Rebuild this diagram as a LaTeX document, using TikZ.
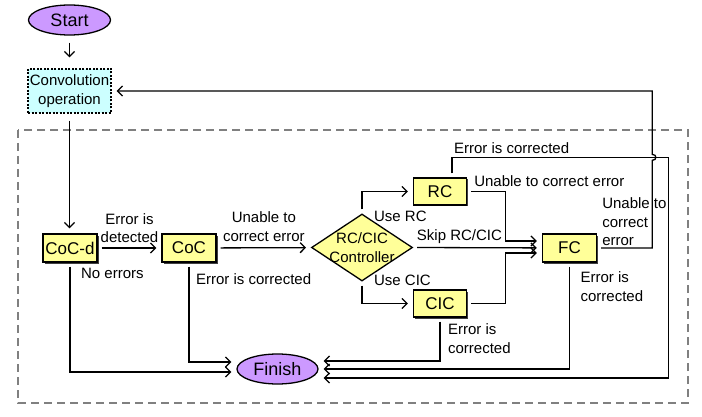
\documentclass[tikz,border=0pt]{standalone}
\usepackage{fontspec}
\setmainfont{Liberation Sans}
\usetikzlibrary{arrows.meta,shapes.geometric,shadows,positioning}

\definecolor{termviolet}{HTML}{CC99FF}
\definecolor{stageyellow}{HTML}{FFFF99}
\definecolor{convcyan}{HTML}{CCFFFF}

\begin{document}
\begin{tikzpicture}[x=1pt,y=-1pt,line width=1.3pt,
  terminal/.style={ellipse, draw, fill=termviolet, minimum width=82pt, minimum height=30pt, inner sep=0pt, font=\fontsize{18}{21}\selectfont},
  stage/.style={draw, fill=stageyellow, minimum width=54pt, minimum height=28pt, inner sep=1pt, font=\fontsize{17}{20}\selectfont,
    drop shadow={shadow xshift=1.5pt, shadow yshift=-1.5pt, fill=black!75, opacity=1}},
  decision/.style={diamond, draw, fill=stageyellow, minimum width=101pt, minimum height=67pt, inner sep=0pt},
  flow/.style={-{Straight Barb[length=5pt,width=10pt]}, shorten <=4pt, shorten >=5pt},
  note/.style={font=\fontsize{15}{18.5}\selectfont, inner sep=1.5pt},
]
\useasboundingbox (0,0) rectangle (702,417);

% outer frame
\draw[gray, line width=1.3pt, dash pattern=on 8pt off 5pt] (18,130) rectangle (688,403);

\node[terminal] (start) at (69.5,20) {Start};
\node[draw, fill=convcyan, dash pattern=on 2pt off 1.5pt, line width=1.3pt, minimum width=83pt, minimum height=44pt,
  inner sep=1pt, align=center, note] (conv) at (69.5,91) {Convolution\\operation};

\node[stage] (cocd) at (70,248) {CoC-d};
\node[stage] (coc) at (189,248) {CoC};
\node[decision, label={[note, align=center]center:RC/CIC\\Controller}] (ctrl) at (362,247.5) {};
\node[stage, minimum width=53pt, minimum height=27pt] (rc) at (440,191.5) {RC};
\node[stage, minimum width=53pt, minimum height=27pt] (cic) at (440,303.5) {CIC};
\node[stage] (fc) at (569.5,248) {FC};
\node[terminal, minimum width=81pt] (finish) at (277.5,369) {Finish};

\coordinate (fbk) at ([xshift=55pt]fc.east);
\coordinate (rgt) at ([xshift=71pt]fc.east);
\coordinate (rctop) at ([xshift=12pt,yshift=20pt]rc.north);
\coordinate (hop) at (fbk |- rctop);

\draw[flow, shorten <=7pt, shorten >=11pt] (start) -- (conv);
\draw[flow, shorten <=7pt] (conv) -- (conv.south |- cocd.north);
\draw[flow] (cocd) -- node[note, above=3pt, align=center] {Error is\\detected} (coc);
\draw[flow] (coc) -- node[note, above=4pt, align=center] {Unable to\\correct error} (ctrl);
\draw[flow] (ctrl.east) -- node[note, pos=0.36, above=2pt] {Skip RC/CIC} (fc);

\draw[flow] (ctrl.north) |- (rc);
\draw[flow] (ctrl.south) |- (cic);
\node[note, anchor=west] at ([xshift=10pt,yshift=-3pt]ctrl.north) {Use RC};
\node[note, anchor=west] at ([xshift=10pt,yshift=1pt]ctrl.south) {Use CIC};

\draw[flow] (rc.east) node[note, anchor=south west, xshift=5pt, yshift=3pt] {Unable to correct error}
  -- ++(38,0) |- ([yshift=7pt]fc.west);
\draw[flow] (cic.east) -- ++(38,0) |- ([yshift=-5pt]fc.west);

% feedback to convolution
\draw[flow] (fc.east) node[note, anchor=south west, align=left, xshift=3pt, yshift=0pt] {Unable to\\correct\\error}
  -- (fbk) -- ([yshift=-3pt]hop) .. controls +(5pt,0) and +(5pt,0) .. ([yshift=3pt]hop) |- (conv.east);

\draw[flow] ([xshift=12pt]rc.north) -- (rctop) node[note, anchor=south west, yshift=2pt] {Error is corrected}
  -- (rctop -| rgt) |- ([yshift=-9pt]finish.east);
\draw[flow] (fc.south) |- (finish.east);
\node[note, anchor=north west, align=left] at ([xshift=9pt,yshift=-7pt]fc.south) {Error is\\corrected};
\draw[flow] (cic.south) |- ([yshift=8pt]finish.east);
\node[note, anchor=north west, align=left] at ([xshift=6pt,yshift=-4pt]cic.south) {Error is\\corrected};
\draw[flow] (coc.south) |- ([yshift=7pt]finish.west);
\node[note, anchor=north west] at ([xshift=5pt,yshift=-9pt]coc.south) {Error is corrected};
\draw[flow] (cocd.south) |- ([yshift=-3pt]finish.west);
\node[note, anchor=north west] at ([xshift=9pt,yshift=-3pt]cocd.south) {No errors};

\end{tikzpicture}
\end{document}
